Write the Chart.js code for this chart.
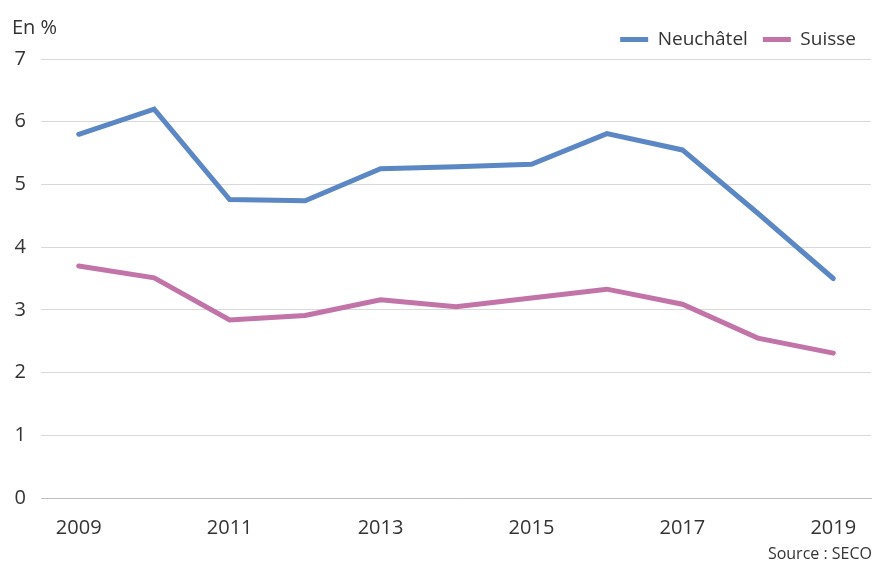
<!DOCTYPE html>
<html>
<head>
<meta charset="utf-8">
<script src="https://cdn.jsdelivr.net/npm/chart.js@4"></script>
<style>
  body { margin: 0; background: #fff; font-family: "Open Sans", sans-serif; color: #333; }
  #wrap { position: relative; width: 875px; height: 564px; }
  #unit { position: absolute; left: 12px; top: 13px; font-size: 20px; }
  #source { position: absolute; right: 3px; top: 542px; font-size: 16px; }
</style>
</head>
<body>
<div id="wrap">
  <canvas id="line-chart" width="875" height="564"></canvas>
  <div id="unit">En %</div>
  <div id="source">Source : SECO</div>
</div>
<script>
// Données (taux de chômage, en %)
const years = ['2009', '2010', '2011', '2012', '2013', '2014', '2015', '2016', '2017', '2018', '2019'];
const neuchatel = [5.8, 6.2, 4.76, 4.74, 5.25, 5.28, 5.32, 5.81, 5.55, 4.54, 3.5];
const suisse = [3.7, 3.51, 2.84, 2.91, 3.16, 3.05, 3.19, 3.33, 3.09, 2.55, 2.31];
const yTicks = [0, 1, 2, 3, 4, 5, 6, 7];

const blue = 'rgb(91, 135, 197)';
const pink = 'rgb(194, 115, 168)';
const tickFont = { family: '"Open Sans", sans-serif', size: 20 };
const legendFont = { family: '"Open Sans", sans-serif', size: 19 };

const ctx = document.getElementById('line-chart').getContext('2d');
const lineChart = new Chart(ctx, {
  type: 'line',
  data: {
    labels: years,
    datasets: [
      {
        label: 'Neuchâtel',
        data: neuchatel,
        borderColor: blue,
        backgroundColor: blue,
        borderWidth: 5,
        borderCapStyle: 'round',
        pointRadius: 0,
        tension: 0,
      },
      {
        label: 'Suisse',
        data: suisse,
        borderColor: pink,
        backgroundColor: pink,
        borderWidth: 5,
        borderCapStyle: 'round',
        pointRadius: 0,
        tension: 0,
      },
    ],
  },
  options: {
    responsive: false,
    animation: false,
    layout: { padding: { top: 15, right: 4, bottom: 30, left: 0 } },
    scales: {
      x: {
        offset: true,
        grid: { display: false, drawTicks: false },
        border: { display: true, color: '#bfbfbf', width: 1 },
        ticks: {
          autoSkip: false,
          maxRotation: 0,
          color: '#333',
          font: tickFont,
          padding: 18,
          callback: function (value, i) { return i % 2 === 0 ? years[i] : ''; },
        },
        afterFit: function (scale) { scale.height = 36; },
      },
      y: {
        min: 0,
        max: 7,
        afterBuildTicks: function (scale) { scale.ticks = yTicks.map(v => ({ value: v })); },
        grid: { color: '#d9d9d9', drawTicks: false },
        border: { display: false },
        ticks: { color: '#333', font: tickFont, padding: 15 },
        afterFit: function (scale) { scale.width = 41; },
      },
    },
    plugins: {
      legend: {
        position: 'top',
        align: 'end',
        labels: {
          usePointStyle: true,
          pointStyle: 'line',
          pointStyleWidth: 28,
          color: '#333',
          font: legendFont,
          padding: 15,
        },
      },
      tooltip: { enabled: false },
    },
  },
});
</script>
</body>
</html>
